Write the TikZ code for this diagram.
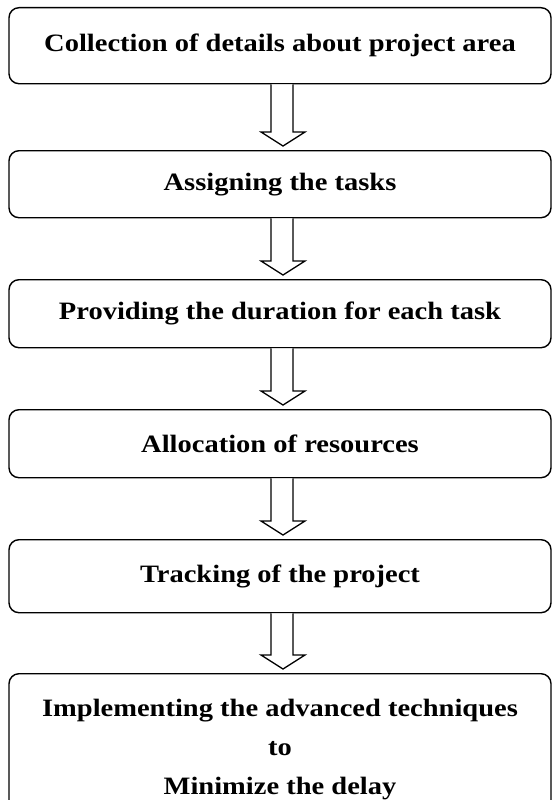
\documentclass[tikz,border=0pt]{standalone}
\usepackage{fontspec}
\setmainfont{Liberation Serif}[FakeStretch=1.14]
\usetikzlibrary{calc}
\tikzset{
  stage/.style={draw=black, line width=1.4pt, rounded corners=10pt, minimum width=542pt,
    inner sep=0pt, font=\fontsize{25}{39}\selectfont\bfseries, align=center, anchor=north},
  fat/.style={draw=black, line width=1.3pt, fill=white, line join=miter}
}
\newcommand{\fatarrow}[2]{%
  \draw[fat] ($(#1.south)+(-9pt,0)$) -- ($(#2.north)+(-9pt,18pt)$) -- ($(#2.north)+(-19pt,18pt)$)
    -- ($(#2.north)+(3pt,4pt)$) -- ($(#2.north)+(25pt,18pt)$) -- ($(#2.north)+(13pt,18pt)$)
    -- ($(#1.south)+(13pt,0)$);}
\begin{document}
\begin{tikzpicture}[x=1pt,y=1pt]
\useasboundingbox (0,0) rectangle (552,-800);
\node[stage, minimum height=76pt] (b1) at (280,-7) {Collection of details about project area};
\node[stage, minimum height=67pt] (b2) at (280,-150) {Assigning the tasks};
\node[stage, minimum height=68pt] (b3) at (280,-279) {Providing the duration for each task};
\node[stage, minimum height=68pt] (b4) at (280,-409) {Allocation of resources};
\node[stage, minimum height=73pt] (b5) at (280,-539) {Tracking of the project};
\node[stage, minimum height=151pt] (b6) at (280,-673) {Implementing the advanced techniques\\to\\Minimize the delay};
\fatarrow{b1}{b2}
\fatarrow{b2}{b3}
\fatarrow{b3}{b4}
\fatarrow{b4}{b5}
\fatarrow{b5}{b6}
\end{tikzpicture}
\end{document}
